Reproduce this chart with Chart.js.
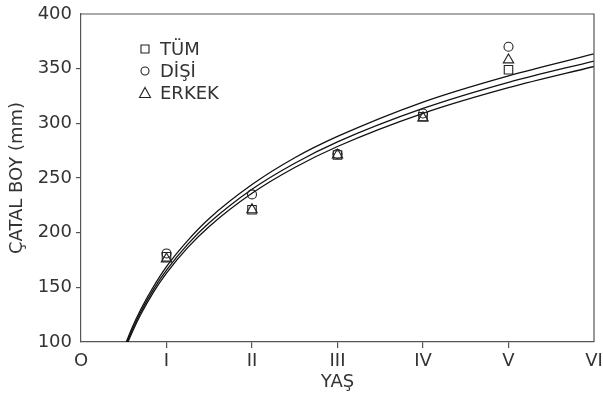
<!DOCTYPE html>
<html>
<head>
<meta charset="utf-8">
<script src="https://cdn.jsdelivr.net/npm/chart.js@4/dist/chart.umd.min.js"></script>
<style>
html,body{margin:0;padding:0;background:#fff;}
#wrap{width:603px;height:401px;position:relative;}
</style>
</head>
<body>
<div id="wrap"><canvas id="c" width="603" height="401"></canvas></div>
<script>
// Observed mean fork lengths by age
const ages = [1, 2, 3, 4, 5];
const tumValues = [178, 221, 271, 306, 349];
const disiValues = [181, 235, 272, 309, 370];
const erkekValues = [176, 221, 271, 305, 358];

// Growth curves
const curveAgesA = [0.53, 0.6, 0.7, 0.85, 1, 1.25, 1.5, 2, 2.5, 3, 4, 5, 6];
const curveA = [100, 113.5, 130, 151, 169, 193, 213, 244, 268.5, 288, 319.5, 343.5, 363.5];
const curveAgesB = [0.54, 0.6, 0.7, 0.85, 1, 1.25, 1.5, 2, 2.5, 3, 4, 5, 6];
const curveB = [100, 111.2, 127.7, 148.4, 165.7, 189.5, 209, 239.7, 263.5, 283, 313.6, 337.5, 357];
const curveAgesC = [0.55, 0.6, 0.7, 0.85, 1, 1.25, 1.5, 2, 2.5, 3, 4, 5, 6];
const curveC = [100, 109.2, 125.4, 145.9, 163, 186.5, 205.7, 236, 259.6, 278.8, 309.1, 332.6, 352];

const xTickLabels = ['O', 'I', 'II', 'III', 'IV', 'V', 'VI'];
const seriesLabels = ['TÜM', 'DİŞİ', 'ERKEK'];

const FONT = "'DejaVu Sans', sans-serif";
const TXT = '#333';
const AX = '#555';

const pts = (xs, ys) => xs.map((x, i) => ({x: x, y: ys[i]}));

function curveDs(xs, ys) {
  return {type: 'line', data: pts(xs, ys), borderColor: '#111', borderWidth: 1.3,
    pointRadius: 0, fill: false, cubicInterpolationMode: 'monotone', order: 2};
}
function pointDs(label, ys, style, r) {
  return {type: 'scatter', label: label, data: pts(ages, ys), showLine: false,
    pointStyle: style, pointRadius: r, pointHoverRadius: r, borderColor: '#222',
    backgroundColor: 'rgba(0,0,0,0)', pointBorderWidth: 1.1, order: 1};
}

const legendPlugin = {
  id: 'boxAndLegend',
  afterDraw(chart) {
    const ctx = chart.ctx, a = chart.chartArea;
    ctx.save();
    ctx.strokeStyle = AX; ctx.lineWidth = 1.2;
    ctx.beginPath();
    ctx.moveTo(a.left, a.top); ctx.lineTo(a.right, a.top); ctx.lineTo(a.right, a.bottom);
    ctx.stroke();
    // legend
    const sx = 145, tx = 160, y0 = 49, dy = 22;
    ctx.font = "18px " + FONT;
    ctx.fillStyle = TXT; ctx.textBaseline = 'middle'; ctx.textAlign = 'left';
    ctx.strokeStyle = '#222'; ctx.lineWidth = 1.1;
    seriesLabels.forEach((lab, i) => {
      const y = y0 + i * dy;
      ctx.beginPath();
      if (i === 0) { ctx.rect(sx - 4, y - 4, 8, 8); }
      else if (i === 1) { ctx.arc(sx, y, 4, 0, Math.PI * 2); }
      else { ctx.moveTo(sx, y - 5.5); ctx.lineTo(sx + 5.5, y + 4.5); ctx.lineTo(sx - 5.5, y + 4.5); ctx.closePath(); }
      ctx.stroke();
      ctx.fillText(lab, tx, y + 1);
    });
    ctx.restore();
  }
};

new Chart(document.getElementById('c'), {
  data: {
    datasets: [
      curveDs(curveAgesA, curveA),
      curveDs(curveAgesB, curveB),
      curveDs(curveAgesC, curveC),
      pointDs(seriesLabels[0], tumValues, 'rect', 6),
      pointDs(seriesLabels[1], disiValues, 'circle', 4.5),
      pointDs(seriesLabels[2], erkekValues, 'triangle', 6)
    ]
  },
  options: {
    responsive: false,
    animation: false,
    devicePixelRatio: 1,
    layout: {padding: {top: 14, right: 9, left: 0, bottom: 0}},
    plugins: {legend: {display: false}, tooltip: {enabled: false}},
    scales: {
      x: {
        type: 'linear', min: 0, max: 6,
        afterFit(s) { s.height = 59; s.paddingLeft = 0; s.paddingRight = 0; },
        ticks: {stepSize: 1, autoSkip: false, maxRotation: 0, padding: 3,
          color: TXT, font: {family: FONT, size: 18},
          callback: (v) => xTickLabels[v]},
        grid: {drawOnChartArea: false, tickLength: 6,
          tickColor: (c) => (c.tick && (c.tick.value === 0 || c.tick.value === 6)) ? 'rgba(0,0,0,0)' : AX,
          lineWidth: 1.2},
        border: {display: true, color: AX, width: 1.2},
        title: {display: true, text: 'YAŞ', color: TXT, font: {family: FONT, size: 18},
          padding: {top: 0, bottom: 8}}
      },
      y: {
        type: 'linear', min: 100, max: 400,
        afterFit(s) { s.width = 81; s.paddingTop = 0; s.paddingBottom = 0; },
        ticks: {stepSize: 50, padding: 4, color: TXT, font: {family: FONT, size: 18}},
        grid: {drawOnChartArea: false, tickLength: 5,
          tickColor: (c) => (c.tick && (c.tick.value === 100 || c.tick.value === 400)) ? 'rgba(0,0,0,0)' : AX,
          lineWidth: 1.2},
        border: {display: true, color: AX, width: 1.2},
        title: {display: true, text: 'ÇATAL BOY (mm)', color: TXT, font: {family: FONT, size: 18},
          padding: {top: 7, bottom: 0}}
      }
    }
  },
  plugins: [legendPlugin]
});
</script>
</body>
</html>
